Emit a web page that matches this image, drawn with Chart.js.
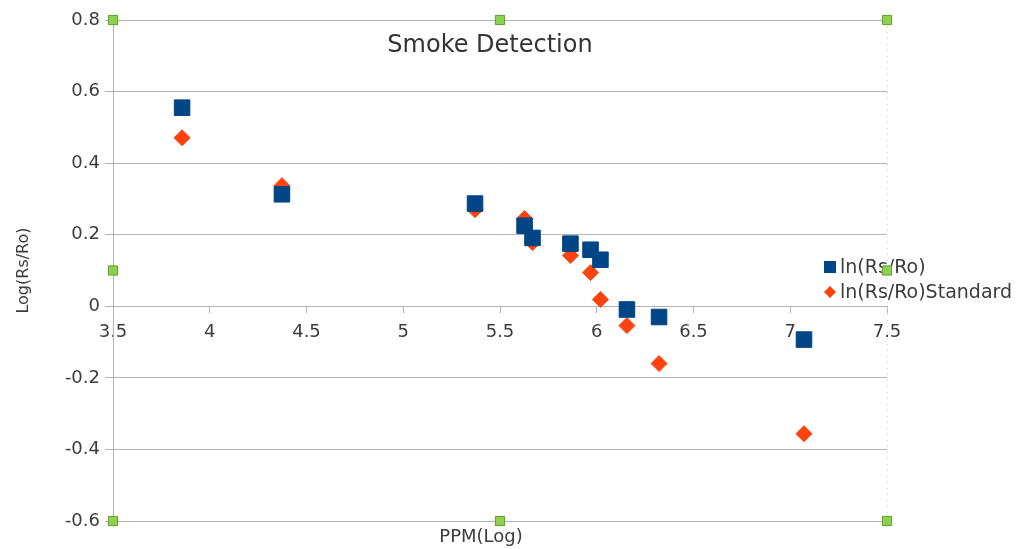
<!DOCTYPE html>
<html>
<head>
<meta charset="utf-8">
<script src="https://cdn.jsdelivr.net/npm/chart.js@4/dist/chart.umd.min.js"></script>
<style>
  html, body { margin: 0; padding: 0; background: #ffffff; }
  #wrap { width: 1026px; height: 549px; }
</style>
</head>
<body>
<div id="wrap"><canvas id="c" width="1026" height="549"></canvas></div>
<script>
// ---- data ----
const ppmLog = [3.857, 4.373, 5.371, 5.627, 5.668, 5.864, 5.968, 6.019, 6.156, 6.322, 7.071];
const lnRsRo = [0.555, 0.313, 0.287, 0.225, 0.191, 0.175, 0.158, 0.130, -0.009, -0.030, -0.093];
const lnRsRoStandard = [0.471, 0.337, 0.270, 0.245, 0.178, 0.142, 0.094, 0.019, -0.054, -0.160, -0.356];
const seriesNames = ['ln(Rs/Ro)', 'ln(Rs/Ro)Standard'];
const xTicks = [3.5, 4, 4.5, 5, 5.5, 6, 6.5, 7, 7.5];
const yTicks = [-0.6, -0.4, -0.2, 0, 0.2, 0.4, 0.6, 0.8];
// selection handles visible on the reference (at plot-area corners / midpoints)
const handleX = [3.5, 5.5, 7.5, 3.5, 7.5, 3.5, 5.5, 7.5];
const handleY = [0.8, 0.8, 0.8, 0.1, 0.1, -0.6, -0.6, -0.6];
const chartTitle = 'Smoke Detection';
const xTitle = 'PPM(Log)';
const yTitle = 'Log(Rs/Ro)';

const FONT = "'DejaVu Sans', sans-serif";
const BLUE = '#004586';
const ORANGE = '#ff420e';
const GRID = '#b3b3b3';
const TEXT = '#3c3c3c';

const toPts = (xs, ys) => xs.map((x, i) => ({ x: x, y: ys[i] }));

const decor = {
  id: 'decor',
  beforeDatasetsDraw(chart) {
    const ctx = chart.ctx;
    const a = chart.chartArea;
    ctx.save();
    // faint dotted right frame
    ctx.strokeStyle = '#d0d0d0';
    ctx.setLineDash([1, 5]);
    ctx.lineWidth = 1;
    ctx.beginPath();
    ctx.moveTo(Math.round(a.right) + 0.5, a.top);
    ctx.lineTo(Math.round(a.right) + 0.5, a.bottom);
    ctx.stroke();
    ctx.setLineDash([]);
    // title
    ctx.fillStyle = '#333333';
    ctx.font = "24px " + FONT;
    ctx.textAlign = 'center';
    ctx.textBaseline = 'middle';
    ctx.fillText(chartTitle, 490, 46);
    // x title
    ctx.font = "18px " + FONT;
    ctx.fillStyle = TEXT;
    ctx.fillText(xTitle, 481, 537);
    // legend
    const ds = chart.data.datasets;
    const rows = [{ y: 267, d: ds[1] }, { y: 292, d: ds[2] }];
    ctx.font = "19px " + FONT;
    ctx.textAlign = 'left';
    rows.forEach((r, i) => {
      ctx.fillStyle = r.d.backgroundColor;
      if (i === 0) {
        ctx.fillRect(824, r.y - 6, 12, 12);
      } else {
        ctx.beginPath();
        ctx.moveTo(830, r.y - 6);
        ctx.lineTo(836, r.y);
        ctx.lineTo(830, r.y + 6);
        ctx.lineTo(824, r.y);
        ctx.closePath();
        ctx.fill();
      }
      ctx.fillStyle = TEXT;
      ctx.fillText(seriesNames[i], 840, r.y + 1);
    });
    ctx.restore();
  }
};

new Chart(document.getElementById('c'), {
  type: 'scatter',
  data: {
    datasets: [
      {
        label: 'handles',
        data: toPts(handleX, handleY),
        pointStyle: 'rect',
        pointRadius: 6.5,
        pointHoverRadius: 6.5,
        backgroundColor: '#8fd14f',
        borderColor: '#5e9e2e',
        borderWidth: 1,
        clip: false
      },
      {
        label: seriesNames[0],
        data: toPts(ppmLog, lnRsRo),
        pointStyle: 'rect',
        pointRadius: 11,
        pointHoverRadius: 11,
        backgroundColor: BLUE,
        borderColor: BLUE,
        borderWidth: 1,
        clip: false
      },
      {
        label: seriesNames[1],
        data: toPts(ppmLog, lnRsRoStandard),
        pointStyle: 'rectRot',
        pointRadius: 8,
        pointHoverRadius: 8,
        backgroundColor: ORANGE,
        borderColor: ORANGE,
        borderWidth: 1,
        clip: false
      }
    ]
  },
  options: {
    responsive: false,
    animation: false,
    devicePixelRatio: 1,
    events: [],
    layout: { padding: { top: 20, right: 139, bottom: 28, left: 0 } },
    plugins: {
      legend: { display: false },
      title: { display: false },
      tooltip: { enabled: false }
    },
    scales: {
      x: {
        type: 'linear',
        position: { y: 0 },
        min: 3.5,
        max: 7.5,
        afterFit: s => { s.height = 0; },
        afterBuildTicks: s => { s.ticks = xTicks.map(v => ({ value: v })); },
        ticks: {
          font: { family: FONT, size: 18 },
          color: TEXT,
          padding: 9,
          maxRotation: 0,
          autoSkip: false,
          callback: v => String(v)
        },
        grid: { drawOnChartArea: false, drawTicks: true, tickLength: 6, color: GRID },
        border: { display: true, color: GRID, width: 1 }
      },
      y: {
        type: 'linear',
        position: 'left',
        min: -0.6,
        max: 0.8,
        afterFit: s => { s.width = 113; },
        afterBuildTicks: s => { s.ticks = yTicks.map(v => ({ value: v })); },
        ticks: {
          font: { family: FONT, size: 18 },
          color: TEXT,
          padding: 5,
          autoSkip: false,
          callback: v => String(Number(v.toFixed(1)))
        },
        title: {
          display: true,
          text: yTitle,
          font: { family: FONT, size: 16 },
          color: TEXT,
          padding: { top: 14, bottom: 0 }
        },
        grid: { color: GRID, tickLength: 8, lineWidth: 1 },
        border: { display: true, color: GRID, width: 1 }
      }
    }
  },
  plugins: [decor]
});
</script>
</body>
</html>
